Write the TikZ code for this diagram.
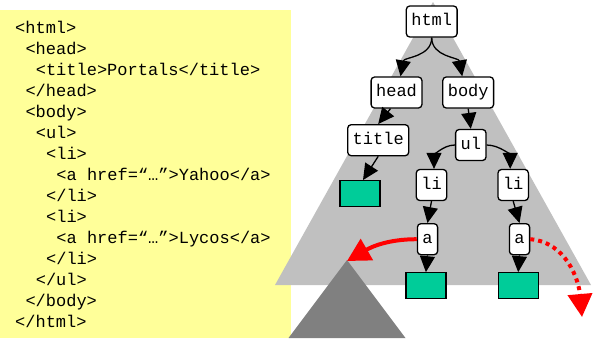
\documentclass[tikz,border=0pt]{standalone}
\usepackage{fontspec}
\setmonofont{Liberation Mono}
\usetikzlibrary{arrows.meta}
\definecolor{notepad}{RGB}{255,255,153}
\definecolor{lightshade}{RGB}{192,192,192}
\definecolor{darkshade}{RGB}{128,128,128}
\definecolor{leafgreen}{RGB}{0,204,153}
\definecolor{linkred}{RGB}{255,0,0}
\newcommand{\codesize}{\fontsize{17}{21}\selectfont\ttfamily}
\tikzset{
  codeline/.style={anchor=base west, inner sep=0pt, font=\codesize},
  elem/.style={draw, line width=1.3pt, rounded corners=3.5pt, fill=white,
    font=\codesize, inner xsep=5pt, inner ysep=0pt,
    text height=12pt, text depth=3.5pt, minimum height=31pt},
  leaf/.style={draw, line width=1.3pt, fill=leafgreen, inner sep=0pt,
    minimum width=40pt, minimum height=26pt},
  edge/.style={line width=1.3pt, -{Triangle[width=15pt,length=16pt]}},
  link/.style={line width=4pt, linkred, -{Triangle[width=24pt,length=23pt]}},
}
\begin{document}
\begin{tikzpicture}[x=1pt, y=-1pt]
\useasboundingbox (0,0) rectangle (594,338);

% source listing on its note
\fill[notepad] (0,10) rectangle (291,338);

% document subtrees
\fill[lightshade] (433,2) -- (275,285) -- (591,285) -- cycle;
\coordinate (apex) at (347,260);
\fill[darkshade] (apex) -- (288.5,338) -- (405.5,338) -- cycle;

% HTML source lines
\node[codeline] (c1)  at (15,33.3)  {<html>};
\node[codeline] (c2)  at (25.3,54.3)  {<head>};
\node[codeline] (c3)  at (35.6,75.3)  {<title>Portals</title>};
\node[codeline] (c4)  at (25.3,96.3)  {</head>};
\node[codeline] (c5)  at (25.3,117.3) {<body>};
\node[codeline] (c6)  at (35.6,138.3) {<ul>};
\node[codeline] (c7)  at (45.9,159.3) {<li>};
\node[codeline] (c8)  at (56.2,180.3) {<a href=“…”>Yahoo</a>};
\node[codeline] (c9)  at (45.9,201.3) {</li>};
\node[codeline] (c10) at (45.9,222.3) {<li>};
\node[codeline] (c11) at (56.2,243.3) {<a href=“…”>Lycos</a>};
\node[codeline] (c12) at (45.9,264.3) {</li>};
\node[codeline] (c13) at (35.6,285.3) {</ul>};
\node[codeline] (c14) at (25.3,306.3) {</body>};
\node[codeline] (c15) at (15,327.3)   {</html>};

% DOM tree
\node[elem] (html)  at (431.7,21.5)  {html};
\node[elem] (head)  at (396.5,92.5)  {head};
\node[elem] (body)  at (468.2,92.5)  {body};
\node[elem] (title) at (378.2,140.2) {title};
\node[elem] (ul)    at (470.8,145)   {ul};
\node[elem] (lil)   at (431.5,185)   {li};
\node[elem] (lir)   at (513.2,185)   {li};
\node[elem] (al)    at (427.5,239.2) {a};
\node[elem] (ar)    at (519.5,239.2) {a};
\node[leaf] (t1) at (360,193.7) {};
\node[leaf] (t2) at (425.9,285.8) {};
\node[leaf] (t3) at (518.2,285.8) {};
\coordinate (away) at (582,317);

% parent-child edges
\draw[edge] (html.south) to[out=-90, in=80] ([xshift=4pt]head.north);
\draw[edge] (html.south) to[out=-90, in=100] ([xshift=-6pt]body.north);
\draw[edge] ([xshift=-6pt]head.south) -- (title.north);
\draw[edge] (title.south) -- ([xshift=3pt]t1.north);
\draw[edge] (body.south) -- (ul.north);
\draw[edge] (ul.west) to[out=180, in=90] ([xshift=2.5pt]lil.north);
\draw[edge] (ul.east) to[out=0, in=90] ([xshift=-3pt]lir.north);
\draw[edge] (lil.south) -- (al.north);
\draw[edge] (lir.south) -- (ar.north);
\draw[edge] (al.south) -- (t2.north);
\draw[edge] (ar.south) -- (t3.north);

% hyperlinks
\draw[link] (al.west) to[out=180, in=30] ([yshift=-1pt]apex);
\draw[link, dash pattern=on 4pt off 4pt] (ar.east) to[out=-5, in=95] (away);
\end{tikzpicture}
\end{document}
